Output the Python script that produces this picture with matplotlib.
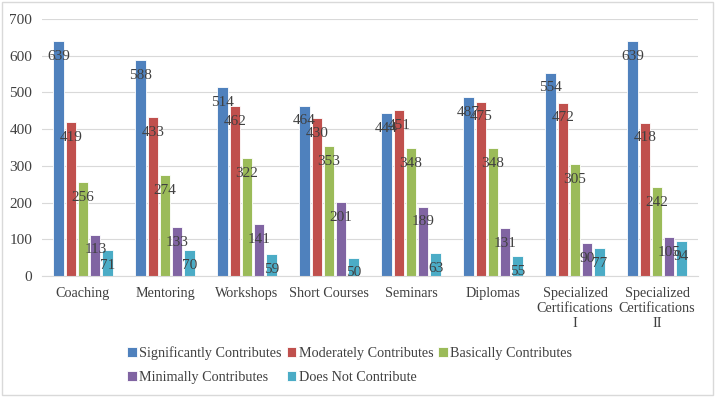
import numpy as np
import matplotlib.pyplot as plt
from matplotlib.patches import Rectangle

# données
categories = ["Coaching", "Mentoring", "Workshops", "Short Courses", "Seminars",
              "Diplomas", "Specialized\nCertifications\nI", "Specialized\nCertifications\nII"]
series_names = ["Significantly Contributes", "Moderately Contributes", "Basically Contributes",
                "Minimally Contributes", "Does Not Contribute"]
significantly = [639, 588, 514, 464, 444, 487, 554, 639]
moderately = [419, 433, 462, 430, 451, 475, 472, 418]
basically = [256, 274, 322, 353, 348, 348, 305, 242]
minimally = [113, 133, 141, 201, 189, 131, 90, 105]
does_not = [71, 70, 59, 50, 63, 55, 77, 94]
colors = ["#4F81BD", "#C0504D", "#9BBB59", "#8064A2", "#4BACC6"]

plt.rcParams['font.family'] = ['Liberation Serif', 'DejaVu Serif']

fig = plt.figure(figsize=(7.15, 3.97), dpi=100)
ax = fig.add_axes([42/715, 1-276/397, (698-42)/715, (276-19)/397])

x = np.arange(len(categories))
w = 0.125
step = 0.15
handles = []
for i, vals in enumerate([significantly, moderately, basically, minimally, does_not]):
    pos = x + (i-2)*step
    b = ax.bar(pos, vals, w, color=colors[i], edgecolor="white", linewidth=0.6,
               label=series_names[i], zorder=2)
    handles.append(b)
    for p, v in zip(pos, vals):
        ax.annotate(str(v), (p, v), xytext=(0, -11), textcoords="offset points",
                    ha="center", va="center", fontsize=11, color="#404040", zorder=3)

ax.set_xlim(-0.5, len(categories)-0.5)
ax.set_ylim(0, 700)
ax.set_yticks(range(0, 701, 100))
ax.set_xticks(x)
ax.set_xticklabels(categories, fontsize=10.2, color="#404040", linespacing=1.2)
ax.tick_params(axis="y", labelsize=11, labelcolor="#404040", length=0, pad=7)
ax.tick_params(axis="x", length=0, pad=8)
ax.grid(axis="y", color="#D9D9D9", linewidth=0.8, zorder=0)
for s in ["top", "right", "left"]:
    ax.spines[s].set_visible(False)
ax.spines["bottom"].set_color("#D9D9D9")

# ordre pour remplir les lignes comme dans l'original
order = [0, 3, 1, 4, 2]
fig.legend([handles[k] for k in order], [series_names[k] for k in order],
           ncol=3, loc="center", bbox_to_anchor=(0.489, 1-365/397), frameon=False,
           fontsize=10.2, handlelength=0.7, handleheight=0.7, handletextpad=0.15,
           columnspacing=0.35, labelspacing=0.8, labelcolor="#404040")

fig.patches.append(Rectangle((0.003, 0.005), 0.994, 0.99, transform=fig.transFigure,
                             fill=False, edgecolor="#D9D9D9", linewidth=1))

fig.savefig("out.png", dpi=100)
